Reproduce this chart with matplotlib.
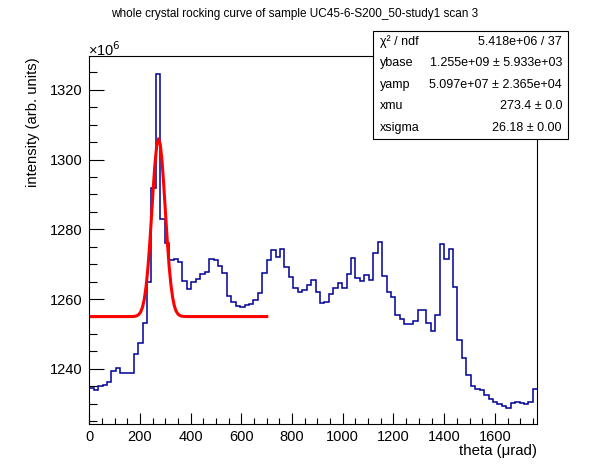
import numpy as np
import matplotlib
matplotlib.use("Agg")
import matplotlib.pyplot as plt
from matplotlib.patches import Rectangle
from matplotlib.ticker import MultipleLocator

plt.rcParams['font.family'] = ['Liberation Sans', 'DejaVu Sans']

# histogram: 101 bins of 17.5 urad starting at 0 (values in units of 1e6)
bin_width = 17.5
counts = [
    1234.4, 1233.9, 1235.0, 1235.5, 1236.3, 1239.3, 1240.3, 1238.7, 1238.7, 1238.9,
    1244.3, 1247.4, 1253.2, 1264.8, 1292.0, 1324.4, 1282.9, 1276.0, 1271.2, 1271.6,
    1270.6, 1265.3, 1262.9, 1264.9, 1265.8, 1267.2, 1267.8, 1271.5, 1271.2, 1269.5,
    1267.5, 1260.9, 1259.2, 1258.0, 1257.7, 1258.4, 1258.6, 1259.8, 1261.7, 1267.5,
    1271.2, 1274.0, 1272.0, 1274.3, 1269.1, 1266.3, 1263.2, 1262.1, 1262.6, 1264.0,
    1265.5, 1262.1, 1258.9, 1259.2, 1261.5, 1263.2, 1264.6, 1263.2, 1267.3, 1271.8,
    1266.0, 1265.2, 1266.9, 1265.5, 1273.2, 1276.3, 1266.6, 1262.1, 1260.6, 1255.5,
    1254.3, 1252.9, 1252.9, 1253.8, 1256.9, 1256.9, 1253.2, 1251.0, 1255.5, 1275.8,
    1271.5, 1274.3, 1263.5, 1248.4, 1243.1, 1238.3, 1235.2, 1234.3, 1234.0, 1232.4,
    1231.5, 1230.6, 1229.8, 1229.5, 1228.8, 1230.3, 1230.6, 1230.1, 1229.9, 1230.4,
    1234.3,
]

# fit parameters (from stats box)
ybase = 1.255e9
yamp = 5.097e7
xmu = 273.4
xsigma = 26.18
fit_range = (0, 700)

stat_names = ["\u03c7\u00b2 / ndf", "ybase", "yamp", "xmu", "xsigma"]
stat_values = ["5.418e+06 / 37", "1.255e+09 \u00b1 5.933e+03",
               "5.097e+07 \u00b1 2.365e+04", "273.4 \u00b1 0.0", "26.18 \u00b1 0.00"]

title = "whole crystal rocking curve of sample UC45-6-S200_50-study1 scan 3"
xlabel = "theta (\u03bcrad)"
ylabel = "intensity (arb. units)"

W, H = 596, 472
fig = plt.figure(figsize=(W / 100, H / 100), dpi=100)
L, R, T, B = 89.3, 536.7, 56, 424
ax = fig.add_axes([L / W, 1 - B / H, (R - L) / W, (B - T) / H])

edges = np.arange(len(counts) + 1) * bin_width
ax.stairs(counts, edges, baseline=None, color='#000099', lw=1.1)

xf = np.linspace(fit_range[0], fit_range[1], 101)
yf = (ybase + yamp * np.exp(-0.5 * ((xf - xmu) / xsigma) ** 2)) / 1e6
ax.plot(xf, yf, color='#ff0000', lw=2.2)

ax.set_xlim(0, 1765)
ax.set_ylim(1224.2, 1329.7)
ax.xaxis.set_major_locator(MultipleLocator(200))
ax.xaxis.set_minor_locator(MultipleLocator(50))
ax.yaxis.set_major_locator(MultipleLocator(20))
ax.yaxis.set_minor_locator(MultipleLocator(5))
ax.tick_params(which='both', direction='in', top=False, right=False,
               labelsize=10.5, width=0.8)
ax.tick_params(axis='x', which='major', length=8, pad=4)
ax.tick_params(axis='x', which='minor', length=4)
ax.tick_params(axis='y', which='major', length=11, pad=5)
ax.tick_params(axis='y', which='minor', length=5.5)
for s in ax.spines.values():
    s.set_linewidth(0.8)

fig.text(536.7 / W, 1 - 451 / H, xlabel, ha='right', va='center', fontsize=10.8)
fig.text(33 / W, 1 - 57 / H, ylabel, ha='center', va='top', rotation=90, fontsize=10.6)
fig.text(88 / W, 1 - 50 / H, "\u00d710$^{6}$", ha='left', va='center', fontsize=10.5)
fig.text(294.5 / W, 1 - 14.5 / H, title, ha='center', va='center', fontsize=8.45)

# stats box
bx0, bx1, by0, by1 = 373, 567.5, 31, 138.5
fig.patches.append(Rectangle((bx0 / W, 1 - by1 / H), (bx1 - bx0) / W, (by1 - by0) / H,
                             transform=fig.transFigure, facecolor='white',
                             edgecolor='black', lw=0.8, zorder=5))
row_h = (by1 - by0) / len(stat_names)
for i, (n, v) in enumerate(zip(stat_names, stat_values)):
    yc = by0 + row_h * (i + 0.5)
    fig.text(380 / W, 1 - yc / H, n, ha='left', va='center', fontsize=9.0, zorder=6)
    fig.text(562 / W, 1 - yc / H, v, ha='right', va='center', fontsize=9.0, zorder=6)

fig.savefig("out.png", dpi=100)
